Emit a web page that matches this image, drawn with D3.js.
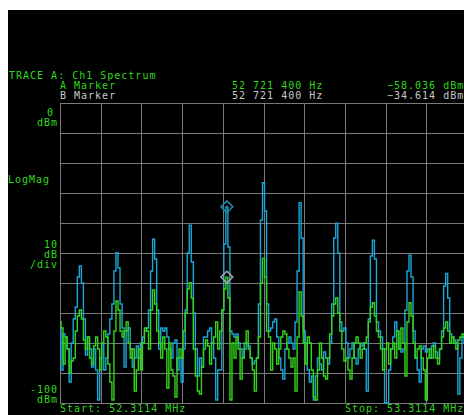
<!DOCTYPE html>
<html>
<head>
<meta charset="utf-8">
<script src="https://cdn.jsdelivr.net/npm/d3@7"></script>
<style>
  body { margin: 0; background: #fff; }
  svg { display: block; }
  .lbl { font-family: "DejaVu Sans Mono", monospace; font-size: 10px; letter-spacing: 1px; }
</style>
</head>
<body>
<div id="chart"></div>
<script>
// sweep settings
const startMHz = 52.3114;
const stopMHz = 53.3114;
const markerIndex = 82;

// trace B (blue), dBm, one value per sweep point
const traceBlue = [
  -75, -89, -77, -78, -82, -93, -80, -72, -68, -58,
  -54.3, -60, -72, -84, -78, -82, -88, -82, -89, -99,
  -85, -80, -89, -85, -77, -72, -67, -56, -49.9, -55,
  -67, -75, -88, -76, -75, -82, -88, -85, -81, -85,
  -80, -78, -76, -75, -69, -56, -45.4, -52, -69, -82,
  -75, -76, -75, -78, -82, -85, -80, -79, -89, -85,
  -93, -82, -69, -50, -40.7, -53, -70, -82, -91, -85,
  -88, -78, -78, -76, -75, -80, -85, -99, -89, -89,
  -69, -47, -34.614, -48, -76, -77, -78, -77, -80, -82,
  -85, -82, -80, -81, -85, -87, -86, -85, -67, -39,
  -26.6, -36, -67, -76, -75, -73, -72, -78, -85, -89,
  -92, -82, -80, -78, -80, -82, -73, -56, -33.2, -45,
  -76, -80, -89, -93, -91, -99, -91, -85, -87, -89,
  -83, -85, -87, -80, -67, -45, -40.1, -50, -73, -76,
  -75, -80, -85, -82, -80, -85, -87, -82, -81, -80,
  -82, -96, -72, -51, -45.7, -52, -73, -76, -78, -82,
  -100, -100, -89, -82, -78, -73, -76, -82, -83, -82,
  -69, -56, -50.7, -58, -76, -85, -89, -93, -82, -81,
  -83, -82, -85, -81, -80, -83, -85, -82, -76, -61,
  -56.8, -65, -77, -78, -79, -80, -97, -85, -78, -80,
  -82
];

// trace A (green), dBm
const traceGreen = [
  -73, -75, -87, -78, -82, -90, -86, -85, -76, -71,
  -69, -72, -79, -82, -78, -85, -87, -81, -78, -82,
  -89, -80, -76, -78, -87, -93, -99, -76, -66, -69,
  -76, -78, -76, -73, -80, -85, -82, -96, -89, -82,
  -89, -80, -75, -76, -82, -69, -62.3, -67, -76, -80,
  -85, -78, -82, -95, -80, -89, -91, -98, -85, -82,
  -85, -76, -70, -62, -59.9, -65, -82, -91, -96, -97,
  -88, -82, -79, -81, -87, -80, -78, -73, -82, -76,
  -69, -62, -58.036, -65, -99, -80, -85, -78, -82, -92,
  -85, -80, -76, -82, -85, -89, -96, -85, -78, -60,
  -51.8, -58, -76, -78, -89, -80, -82, -87, -82, -78,
  -76, -77, -82, -85, -88, -85, -96, -78, -63, -71,
  -80, -87, -78, -80, -89, -98, -99, -89, -80, -85,
  -91, -92, -85, -77, -71, -67, -65, -70, -76, -82,
  -86, -85, -89, -92, -85, -80, -78, -80, -85, -82,
  -80, -78, -73, -68, -66.6, -71, -76, -78, -82, -89,
  -82, -80, -87, -82, -80, -85, -76, -82, -75, -80,
  -91, -73, -66.6, -71, -80, -85, -82, -81, -85, -89,
  -99, -85, -82, -85, -81, -85, -87, -82, -78, -75,
  -73, -76, -80, -78, -80, -82, -79, -78, -77, -78,
  -80
];

const leftLabels = [
  { text: "0", y: 116, right: 54 },
  { text: "dBm", y: 126, right: 58 },
  { text: "10", y: 248, right: 58 },
  { text: "dB", y: 258, right: 58 },
  { text: "/div", y: 268, right: 58 },
  { text: "-100", y: 393, right: 58 },
  { text: "dBm", y: 403, right: 58 }
];

const width = 464, height = 415;
const green = "#2ed81c", gray = "#c8c8c8", gridCol = "#7a7a7a";

const svg = d3.select("#chart").append("svg")
  .attr("width", width)
  .attr("height", height);

svg.append("rect").attr("width", width).attr("height", height).attr("fill", "#fff");
svg.append("rect").attr("x", 8).attr("y", 10)
  .attr("width", width - 8).attr("height", height - 10).attr("fill", "#000");

const step = (stopMHz - startMHz) / (traceBlue.length - 1);
const freq = i => startMHz + i * step;

const x = d3.scaleLinear().domain([startMHz, stopMHz]).range([60, 467]);
const y = d3.scaleLinear().domain([-100, 0]).range([403, 103]);

// graticule: 10 x 10 divisions
const xTicks = d3.range(11).map(k => startMHz + k * (stopMHz - startMHz) / 10);
const yTicks = d3.range(-100, 1, 10);

const grid = svg.append("g").attr("stroke", gridCol).attr("stroke-width", 1);
grid.selectAll("line.v").data(xTicks).enter().append("line")
  .attr("x1", d => Math.round(x(d)) + 0.5).attr("x2", d => Math.round(x(d)) + 0.5)
  .attr("y1", y(0)).attr("y2", y(-100));
grid.selectAll("line.h").data(yTicks).enter().append("line")
  .attr("y1", d => Math.round(y(d)) + 0.5).attr("y2", d => Math.round(y(d)) + 0.5)
  .attr("x1", 60).attr("x2", 467);

const line = d3.line()
  .x((d, i) => x(freq(i)))
  .y(d => y(d))
  .curve(d3.curveStep);

const plot = svg.append("g");
plot.append("path").datum(traceBlue)
  .attr("fill", "none").attr("stroke", "#1aa6d6").attr("stroke-width", 1.4)
  .attr("d", line);
plot.append("path").datum(traceGreen)
  .attr("fill", "none").attr("stroke", "#34d41a").attr("stroke-width", 1.4)
  .attr("d", line);

// marker diamonds
const diamond = d3.symbol().type(d3.symbolSquare).size(70);
const mx = x(freq(markerIndex));
svg.append("path").attr("d", diamond())
  .attr("transform", `translate(${mx},${y(traceBlue[markerIndex])}) rotate(45)`)
  .attr("fill", "none").attr("stroke", "#1b8cb4").attr("stroke-width", 1.5);
svg.append("path").attr("d", diamond())
  .attr("transform", `translate(${mx},${y(traceGreen[markerIndex])}) rotate(45)`)
  .attr("fill", "none").attr("stroke", "#a8a8a8").attr("stroke-width", 1.5);

// header text
const txt = (t, xx, yy, col, anchor) => svg.append("text")
  .attr("class", "lbl").attr("x", xx).attr("y", yy)
  .attr("fill", col).attr("text-anchor", anchor || "start").text(t);

txt("TRACE A: Ch1 Spectrum", 9, 79, green);
txt("A Marker", 60, 89, green);
txt("B Marker", 60, 99, gray);
const mHz = Math.round(freq(markerIndex) * 1e6);
const hzStr = d3.format(",")(mHz).replace(/,/g, " ") + " Hz";
txt(hzStr, 232, 89, green);
txt(hzStr, 232, 99, gray);
txt(d3.format(".3f")(traceGreen[markerIndex]) + " dBm", 387, 89, green);
txt(d3.format(".3f")(traceBlue[markerIndex]) + " dBm", 387, 99, gray);

txt("LogMag", 8, 183, green);
leftLabels.forEach(l => txt(l.text, l.right, l.y, green, "end"));

txt("Start: " + startMHz.toFixed(4) + " MHz", 60, 412, green);
txt("Stop: " + stopMHz.toFixed(4) + " MHz", 345, 412, green);
</script>
</body>
</html>
